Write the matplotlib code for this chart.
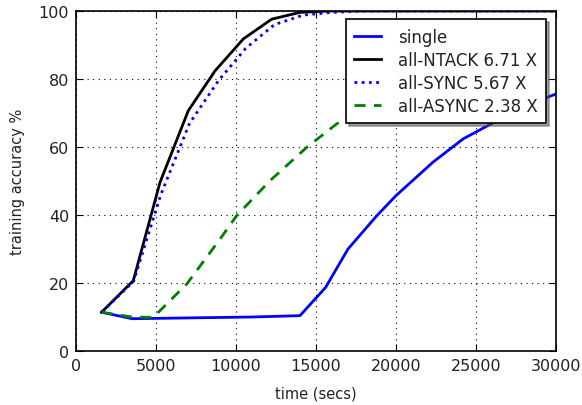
import matplotlib
matplotlib.use("Agg")
import matplotlib.pyplot as plt

single_x = [1600, 3500, 5000, 8000, 11000, 14000, 15600, 17000, 18800, 20000, 22300, 24200, 26300, 28000, 30000]
single_y = [11.4, 9.5, 9.6, 9.8, 10.0, 10.4, 18.7, 30.0, 39.8, 45.7, 55.5, 62.4, 67.7, 72.0, 75.6]

ntack_x = [1600, 3580, 5250, 7020, 8690, 10460, 12230, 14000, 15800, 30000]
ntack_y = [11.4, 20.7, 49.6, 70.7, 82.4, 91.8, 97.6, 99.6, 100, 100]

sync_x = [1600, 3600, 5300, 7100, 8900, 10600, 12400, 14200, 16000, 18000, 30000]
sync_y = [11.4, 20.5, 46.0, 67.0, 79.5, 89.0, 96.0, 98.8, 99.6, 100, 100]

async_x = [1600, 3500, 4830, 6920, 9000, 10040, 12125, 14420, 16290, 19000, 22000]
async_y = [11.4, 10.0, 9.9, 19.7, 32.9, 39.8, 50.1, 59.9, 66.8, 74.0, 80.0]

labels = ["single", "all-NTACK 6.71 X", "all-SYNC 5.67 X", "all-ASYNC 2.38 X"]

fig = plt.figure(figsize=(5.82, 4.06), dpi=100)
ax = fig.add_axes([0.1306, 0.133, 0.8247, 0.8374])

ax.plot(single_x, single_y, color="blue", lw=2, label=labels[0])
ax.plot(ntack_x, ntack_y, color="black", lw=2, label=labels[1])
ax.plot(sync_x, sync_y, color="blue", lw=2, ls=(0, (1, 1.6)), label=labels[2])
ax.plot(async_x, async_y, color="green", lw=2, ls=(0, (4, 3)), label=labels[3])

ax.set_xlim(0, 30000)
ax.set_ylim(0, 100)
ax.set_xticks([0, 5000, 10000, 15000, 20000, 25000, 30000])
ax.set_yticks([0, 20, 40, 60, 80, 100])
ax.tick_params(direction="in", top=True, right=True, labelsize=11.5, length=5, pad=5,
               labelcolor="#222222")
ax.grid(True, color="black", ls=(0, (1, 4)), lw=0.8)
for s in ax.spines.values():
    s.set_linewidth(1.2)

ax.set_xlabel("time (secs)", fontsize=10.5, color="#222222", labelpad=9)
ax.set_ylabel("training accuracy %", fontsize=10.5, color="#222222", labelpad=10)

leg = ax.legend(loc="upper right", bbox_to_anchor=(0.979, 0.976), borderaxespad=0,
                fancybox=False, shadow=True,
                fontsize=12, framealpha=1, edgecolor="black", handlelength=1.6,
                borderpad=0.5, labelspacing=0.3, handletextpad=1.0)
leg.get_frame().set_linewidth(1.2)
for t in leg.get_texts():
    t.set_color("#222222")

fig.savefig("out.png", dpi=100)
